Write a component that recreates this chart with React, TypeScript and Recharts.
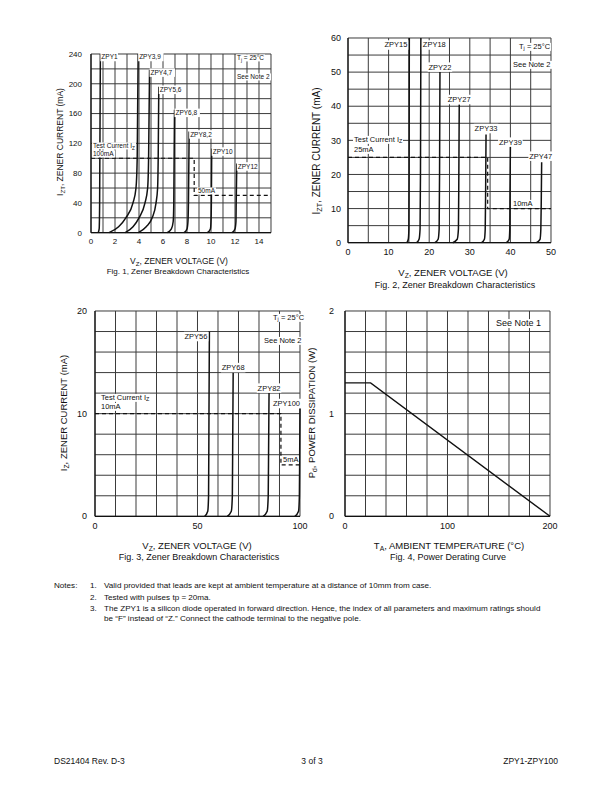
import React from "react";
import { ComposedChart, Line, Scatter, XAxis, YAxis, CartesianGrid } from "recharts";

const FONT = '"Liberation Sans", Arial, Helvetica, sans-serif';

type Pt = [number, number];

// ---- Fig. 1 ----
const fig1XGrid = [0, 1, 2, 3, 4, 5, 6, 7, 8, 9, 10, 11, 12, 13, 14, 15];
const fig1XTicks = [0, 2, 4, 6, 8, 10, 12, 14];
const fig1YGrid = [0, 20, 40, 60, 80, 100, 120, 140, 160, 180, 200, 220, 240];
const fig1YTicks = [0, 40, 80, 120, 160, 200, 240];
const fig1Names = ["ZPY1", "ZPY3,9", "ZPY4,7", "ZPY5,6", "ZPY6,8", "ZPY8,2", "ZPY10", "ZPY12"];
const fig1Curves: Pt[][] = [
  [[0.6, 0], [0.68, 5], [0.72, 40], [0.78, 240]],
  [[1.5, 0], [2.3, 8], [2.9, 20], [3.5, 40], [3.75, 60], [3.85, 100], [3.93, 240]],
  [[2.85, 0], [3.5, 8], [4.0, 20], [4.5, 40], [4.72, 60], [4.8, 100], [4.88, 219]],
  [[3.95, 0], [4.6, 8], [5.1, 20], [5.42, 40], [5.55, 60], [5.6, 100], [5.65, 196]],
  [[6.35, 0], [6.7, 5], [6.85, 15], [6.9, 40], [6.96, 165]],
  [[7.75, 0], [8.0, 5], [8.08, 15], [8.12, 40], [8.18, 136]],
  [[9.7, 0], [9.95, 5], [10.0, 15], [10.03, 40], [10.06, 113]],
  [[11.75, 0], [12.0, 5], [12.08, 15], [12.1, 40], [12.15, 93]],
];
const fig1Test: Pt[] = [[0, 100], [8.6, 100], [8.6, 50], [15, 50]];

// ---- Fig. 2 ----
const fig2XGrid = [0, 5, 10, 15, 20, 25, 30, 35, 40, 45, 50];
const fig2XTicks = [0, 10, 20, 30, 40, 50];
const fig2YGrid = [0, 5, 10, 15, 20, 25, 30, 35, 40, 45, 50, 55, 60];
const fig2YTicks = [0, 10, 20, 30, 40, 50, 60];
const fig2Names = ["ZPY15", "ZPY18", "ZPY22", "ZPY27", "ZPY33", "ZPY39", "ZPY47"];
const fig2Curves: Pt[][] = [
  [[14.5, 0], [14.85, 1], [15.0, 4], [15.05, 20], [15.1, 60]],
  [[16.9, 0], [17.5, 1], [17.75, 4], [17.85, 20], [17.95, 60]],
  [[21.4, 0], [22.2, 1], [22.45, 4], [22.55, 20], [22.65, 50]],
  [[25.8, 0], [26.9, 1], [27.2, 4], [27.3, 20], [27.4, 40.5]],
  [[32.9, 0], [33.6, 1], [33.8, 4], [33.9, 15], [34.0, 31.7]],
  [[39.0, 0], [39.7, 1], [39.85, 4], [39.9, 15], [40.0, 28.3]],
  [[46.4, 0], [47.3, 1], [47.5, 4], [47.6, 12], [47.7, 23.6]],
];
const fig2Test: Pt[] = [[0, 25], [34.4, 25], [34.4, 10], [50, 10]];

// ---- Fig. 3 ----
const fig3XGrid = [0, 10, 20, 30, 40, 50, 60, 70, 80, 90, 100];
const fig3XTicks = [0, 50, 100];
const fig3YGrid = [0, 2, 4, 6, 8, 10, 12, 14, 16, 18, 20];
const fig3YTicks = [0, 10, 20];
const fig3Names = ["ZPY56", "ZPY68", "ZPY82", "ZPY100"];
const fig3Curves: Pt[][] = [
  [[53.5, 0], [55.0, 0.5], [55.4, 2], [55.6, 10], [55.8, 18]],
  [[64.5, 0], [66.5, 0.5], [67.0, 2], [67.2, 8], [67.4, 14]],
  [[82.0, 0], [84.0, 0.5], [84.5, 2], [84.7, 7], [84.9, 12]],
  [[97.5, 0], [99.3, 0.5], [99.7, 2], [99.85, 6], [100, 10.5]],
];
const fig3Test: Pt[] = [[0, 10], [90.7, 10], [90.7, 5], [100, 5]];

// ---- Fig. 4 ----
const fig4XGrid = [0, 20, 40, 60, 80, 100, 120, 140, 160, 180, 200];
const fig4XTicks = [0, 100, 200];
const fig4YGrid = [0, 0.2, 0.4, 0.6, 0.8, 1, 1.2, 1.4, 1.6, 1.8, 2];
const fig4YTicks = [0, 1, 2];
const fig4Derating: Pt[] = [[0, 1.3], [25, 1.3], [200, 0]];

const rows = (pts: Pt[]) => pts.map(([v, i]) => ({ v, i }));

type Offset = [number, number, "start" | "middle" | "end"];

function makeLabel(offsets: Record<string, Offset>, fs: number) {
  return (props: any) => {
    const { cx, cy, payload } = props;
    const [dx, dy, anchor] = offsets[payload.name] ?? [1, 3, "start"];
    const x = cx + dx;
    const y = cy + dy;
    const w = payload.name.length * fs * 0.6 + 2;
    const rx = anchor === "start" ? x - 1 : anchor === "middle" ? x - w / 2 : x - w + 1;
    return (
      <g>
        <rect x={rx} y={y - fs / 2 - 1} width={w} height={fs + 2} fill="#fff" />
        <text x={x} y={y} textAnchor={anchor} dominantBaseline="central" fontSize={fs} fontFamily={FONT} fill="#111">
          {payload.name}
        </text>
      </g>
    );
  };
}

interface FigProps {
  left: number;
  top: number;
  pw: number;
  ph: number;
  xGrid: number[];
  xTicks: number[];
  yGrid: number[];
  yTicks: number[];
  names?: string[];
  curves: Pt[][];
  test?: Pt[];
  offsets?: Record<string, Offset>;
  labelFs?: number;
  tickFs: number;
  yGap: number;
  lineWidth?: number;
}

function Fig(p: FigProps) {
  const labels = (p.names ?? []).map((name, k) => {
    const last = p.curves[k][p.curves[k].length - 1];
    return { v: last[0], i: last[1], name };
  });
  const xMax = p.xGrid[p.xGrid.length - 1];
  const yMax = p.yGrid[p.yGrid.length - 1];
  const fmt = (list: number[]) => (v: number) => (list.some((t) => Math.abs(t - v) < 1e-9) ? String(v) : "");
  return (
    <div style={{ position: "absolute", left: p.left - 40, top: p.top - 15 }}>
      <ComposedChart
        width={p.pw + 55}
        height={p.ph + 45}
        margin={{ top: 15, right: 15, left: 10, bottom: 0 }}
      >
        <CartesianGrid stroke="#3a3a3a" strokeWidth={1} />
        <XAxis
          type="number"
          dataKey="v"
          domain={[0, xMax]}
          ticks={p.xGrid}
          interval={0}
          tickFormatter={fmt(p.xTicks)}
          tickLine={false}
          tickSize={3}
          tickMargin={3}
          height={30}
          axisLine={{ stroke: "#111", strokeWidth: 1.2 }}
          tick={{ fontSize: p.tickFs, fontFamily: FONT, fill: "#111" }}
        />
        <YAxis
          type="number"
          dataKey="i"
          domain={[0, yMax]}
          ticks={p.yGrid}
          interval={0}
          tickFormatter={fmt(p.yTicks)}
          tickLine={false}
          tickSize={3}
          tickMargin={p.yGap - 3}
          width={30}
          axisLine={{ stroke: "#111", strokeWidth: 1.2 }}
          tick={{ fontSize: p.tickFs, fontFamily: FONT, fill: "#111" }}
        />
        {p.curves.map((c, k) => (
          <Line
            key={k}
            data={rows(c)}
            dataKey="i"
            type={p.names ? "monotone" : "linear"}
            stroke="#111"
            strokeWidth={p.lineWidth ?? 1.5}
            dot={false}
            activeDot={false}
            isAnimationActive={false}
          />
        ))}
        {p.test && (
          <Line
            data={rows(p.test)}
            dataKey="i"
            type="linear"
            stroke="#111"
            strokeWidth={1.2}
            strokeDasharray="4 3"
            dot={false}
            activeDot={false}
            isAnimationActive={false}
          />
        )}
        {p.names && (
          <Scatter
            data={labels}
            dataKey="i"
            shape={makeLabel(p.offsets ?? {}, p.labelFs ?? 7)}
            isAnimationActive={false}
          />
        )}
      </ComposedChart>
    </div>
  );
}

const sub = (t: string) => (
  <sub style={{ fontSize: "0.72em", verticalAlign: "-0.3em", lineHeight: 0 }}>{t}</sub>
);

function Txt({ x, y, fs, children, align = "left", bg = false }: any) {
  const tx = align === "center" ? "-50%" : align === "right" ? "-100%" : "0";
  return (
    <div
      style={{
        position: "absolute",
        left: x,
        top: y,
        transform: `translate(${tx}, -50%)`,
        fontSize: fs,
        lineHeight: 1.1,
        whiteSpace: "nowrap",
        fontFamily: FONT,
        color: "#111",
        background: bg ? "#fff" : "transparent",
        padding: bg ? "0 1px" : 0,
      }}
    >
      {children}
    </div>
  );
}

function VTxt({ x, y, fs, children }: any) {
  return (
    <div
      style={{
        position: "absolute",
        left: x,
        top: y,
        transform: "translate(-50%, -50%) rotate(-90deg)",
        fontSize: fs,
        whiteSpace: "nowrap",
        fontFamily: FONT,
        color: "#111",
      }}
    >
      {children}
    </div>
  );
}

const fig2Offsets: Record<string, Offset> = {
  ZPY15: [-2, 7, "end"],
  ZPY18: [2, 7, "start"],
  ZPY22: [0, -5, "middle"],
  ZPY27: [0, -5, "middle"],
  ZPY33: [0, -6, "middle"],
  ZPY39: [0, -4, "middle"],
  ZPY47: [-1, -6, "middle"],
};
const fig3Offsets: Record<string, Offset> = {
  ZPY56: [-2, 5, "end"],
  ZPY68: [0, -5, "middle"],
  ZPY82: [0, -5, "middle"],
  ZPY100: [0, -5, "end"],
};

export default function App() {
  return (
    <div style={{ position: "absolute", left: 0, top: 0, width: 612, height: 792, background: "#fff", fontFamily: FONT }}>
      {/* Fig. 1 */}
      <Fig
        left={90.7}
        top={54}
        pw={180}
        ph={178.7}
        xGrid={fig1XGrid}
        xTicks={fig1XTicks}
        yGrid={fig1YGrid}
        yTicks={fig1YTicks}
        names={fig1Names}
        curves={fig1Curves}
        test={fig1Test}
        labelFs={6.5}
        tickFs={8}
        yGap={9}
      />
      <Txt x={236} y={58} fs={6.5} bg>T{sub("j")} = 25°C</Txt>
      <Txt x={236} y={77} fs={6.5} bg>See Note 2</Txt>
      <Txt x={92} y={146} fs={6.5} bg>Test Current I{sub("Z")}</Txt>
      <Txt x={92} y={153.5} fs={6.5} bg>100mA</Txt>
      <Txt x={197} y={190.5} fs={6.5} bg>50mA</Txt>
      <Txt x={179} y={262} fs={8.5} align="center">V{sub("Z")}, ZENER VOLTAGE (V)</Txt>
      <Txt x={178} y={271.5} fs={8} align="center">Fig. 1, Zener Breakdown Characteristics</Txt>
      <VTxt x={60} y={142} fs={8.5}>I{sub("ZT")}, ZENER CURRENT (mA)</VTxt>

      {/* Fig. 2 */}
      <Fig
        left={347.7}
        top={38.3}
        pw={203}
        ph={204.7}
        xGrid={fig2XGrid}
        xTicks={fig2XTicks}
        yGrid={fig2YGrid}
        yTicks={fig2YTicks}
        names={fig2Names}
        curves={fig2Curves}
        test={fig2Test}
        offsets={fig2Offsets}
        labelFs={7.5}
        tickFs={9}
        yGap={7}
      />
      <Txt x={518} y={47} fs={7.5} bg>T{sub("j")} = 25°C</Txt>
      <Txt x={512} y={64.5} fs={7.5} bg>See Note 2</Txt>
      <Txt x={353} y={140} fs={7.5} bg>Test Current I{sub("Z")}</Txt>
      <Txt x={353} y={149.5} fs={7.5} bg>25mA</Txt>
      <Txt x={512} y={204} fs={7.5} bg>10mA</Txt>
      <Txt x={453} y={273} fs={9.5} align="center">V{sub("Z")}, ZENER VOLTAGE (V)</Txt>
      <Txt x={455} y={286} fs={9} align="center">Fig. 2, Zener Breakdown Characteristics</Txt>
      <VTxt x={316} y={151} fs={10}>I{sub("ZT")}, ZENER CURRENT (mA)</VTxt>

      {/* Fig. 3 */}
      <Fig
        left={95}
        top={310.7}
        pw={205}
        ph={205.3}
        xGrid={fig3XGrid}
        xTicks={fig3XTicks}
        yGrid={fig3YGrid}
        yTicks={fig3YTicks}
        names={fig3Names}
        curves={fig3Curves}
        test={fig3Test}
        offsets={fig3Offsets}
        labelFs={7.5}
        tickFs={9}
        yGap={8}
      />
      <Txt x={272} y={317.5} fs={7.5} bg>T{sub("j")} = 25°C</Txt>
      <Txt x={263} y={341} fs={7.5} bg>See Note 2</Txt>
      <Txt x={100} y={397.5} fs={7.5} bg>Test Current I{sub("Z")}</Txt>
      <Txt x={100} y={406.5} fs={7.5} bg>10mA</Txt>
      <Txt x={282} y={460} fs={7.5} bg>5mA</Txt>
      <Txt x={197} y={546} fs={9.5} align="center">V{sub("Z")}, ZENER VOLTAGE (V)</Txt>
      <Txt x={199} y={558} fs={9} align="center">Fig. 3, Zener Breakdown Characteristics</Txt>
      <VTxt x={63} y={413} fs={9.5}>I{sub("Z")}, ZENER CURRENT (mA)</VTxt>

      {/* Fig. 4 */}
      <Fig
        left={345}
        top={310.7}
        pw={205}
        ph={205.3}
        xGrid={fig4XGrid}
        xTicks={fig4XTicks}
        yGrid={fig4YGrid}
        yTicks={fig4YTicks}
        curves={[fig4Derating]}
        tickFs={9}
        yGap={11}
        lineWidth={1.4}
      />
      <Txt x={495} y={323.5} fs={9} bg>See Note 1</Txt>
      <Txt x={449} y={546} fs={9.5} align="center">T{sub("A")}, AMBIENT TEMPERATURE (°C)</Txt>
      <Txt x={448} y={558} fs={9} align="center">Fig. 4, Power Derating Curve</Txt>
      <VTxt x={311} y={413} fs={9.5}>P{sub("d")}, POWER DISSIPATION (W)</VTxt>

      {/* Notes */}
      <Txt x={54} y={586} fs={8.1}>Notes:</Txt>
      <Txt x={90} y={586} fs={8.1}>1.</Txt>
      <Txt x={104} y={586} fs={8.1}>Valid provided that leads are kept at ambient temperature at a distance of 10mm from case.</Txt>
      <Txt x={90} y={598} fs={8.1}>2.</Txt>
      <Txt x={104} y={598} fs={8.1}>Tested with pulses tp = 20ma.</Txt>
      <Txt x={90} y={609} fs={8.1}>3.</Txt>
      <Txt x={104} y={609} fs={8.1}>The ZPY1 is a silicon diode operated in forward direction. Hence, the index of all parameters and maximum ratings should</Txt>
      <Txt x={104} y={619} fs={8.1}>be “F” instead of “Z.” Connect the cathode terminal to the negative pole.</Txt>

      {/* Footer */}
      <Txt x={54} y={762} fs={8.5}>DS21404 Rev. D-3</Txt>
      <Txt x={312} y={762} fs={8.5} align="center">3 of 3</Txt>
      <Txt x={558} y={762} fs={8.5} align="right">ZPY1-ZPY100</Txt>
    </div>
  );
}
